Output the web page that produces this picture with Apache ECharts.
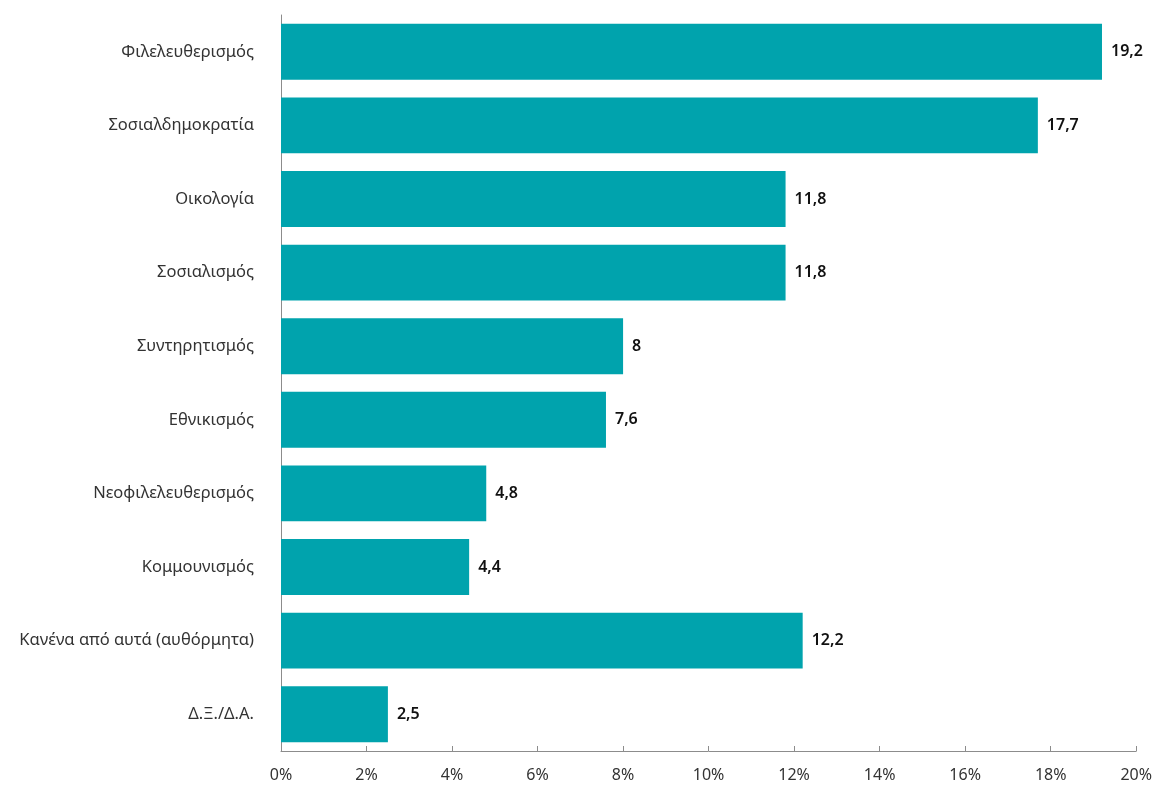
<!DOCTYPE html>
<html>
<head>
    <meta charset="utf-8">
    <title>chart</title>
    <style>
        html, body { margin: 0; padding: 0; background: #fff; }
        #main { width: 1155px; height: 785px; }
    </style>
</head>
<body>
<div id="main"></div>
<script src="https://cdn.jsdelivr.net/npm/echarts@6/dist/echarts.min.js"></script>
<script>
    var categories = ['Φιλελευθερισμός', 'Σοσιαλδημοκρατία', 'Οικολογία', 'Σοσιαλισμός', 'Συντηρητισμός',
        'Εθνικισμός', 'Νεοφιλελευθερισμός', 'Κομμουνισμός', 'Κανένα από αυτά (αυθόρμητα)', 'Δ.Ξ./Δ.Α.'];
    var values = [19.2, 17.7, 11.8, 11.8, 8, 7.6, 4.8, 4.4, 12.2, 2.5];

    var myChart = echarts.init(document.getElementById('main'));
    var option = {
        animation: false,
        grid: {left: 281, right: 17, top: 15, bottom: 34},
        xAxis: {
            type: 'value',
            min: 0,
            max: 20,
            interval: 2,
            axisLine: {show: true, lineStyle: {color: '#8c8c8c', width: 1}},
            axisTick: {show: true, inside: true, length: 5, lineStyle: {color: '#8c8c8c'}},
            splitLine: {show: false},
            axisLabel: {
                formatter: '{value}%',
                color: '#333',
                fontSize: 16,
                fontFamily: '"Noto Sans", sans-serif',
                margin: 16
            }
        },
        yAxis: {
            type: 'category',
            data: categories,
            inverse: true,
            axisLine: {show: true, lineStyle: {color: '#8c8c8c', width: 1}},
            axisTick: {show: false},
            axisLabel: {
                color: '#333',
                fontSize: 16.5,
                fontFamily: '"Noto Sans", sans-serif',
                margin: 27
            }
        },
        series: [{
            type: 'bar',
            data: values,
            barCategoryGap: '24%',
            itemStyle: {color: '#00A3AD'},
            label: {
                show: true,
                position: 'right',
                distance: 9,
                color: '#111',
                fontSize: 16,
                fontWeight: 600,
                fontFamily: '"Noto Sans", sans-serif',
                formatter: function (p) {
                    return String(p.value).replace('.', ',');
                }
            }
        }]
    };
    myChart.setOption(option);
</script>
</body>
</html>
